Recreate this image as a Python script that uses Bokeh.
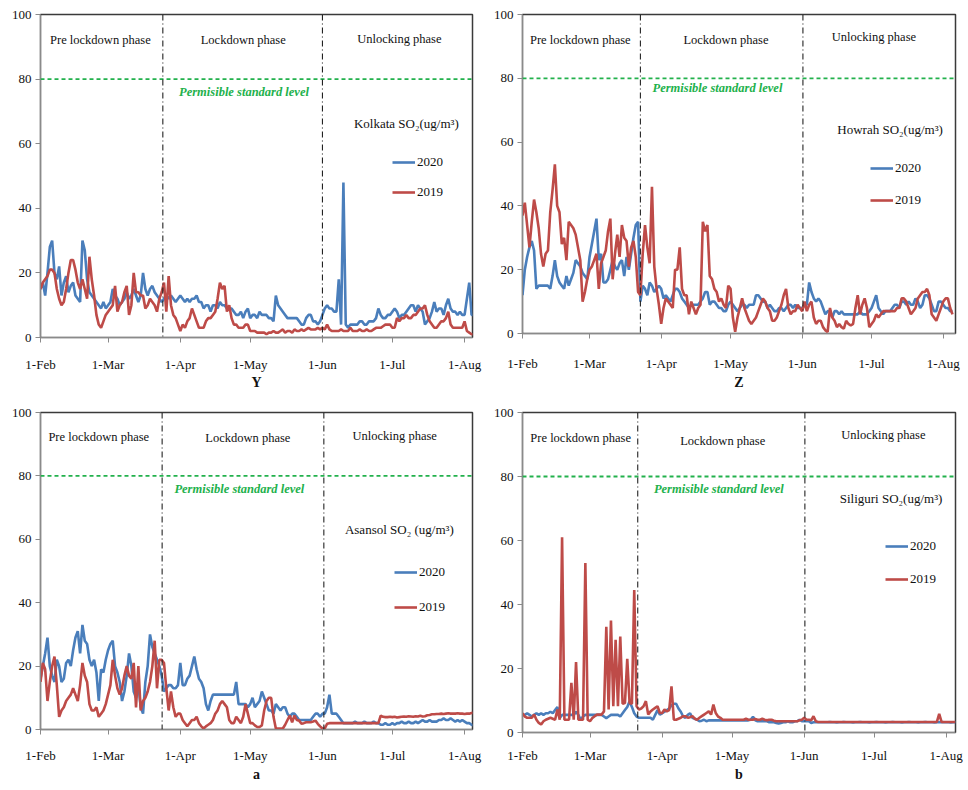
from bokeh.plotting import figure
from bokeh.models import Range1d, FixedTicker, Span, Label, Legend, LegendItem
from bokeh.layouts import column, row
from bokeh.embed import file_html
from bokeh.resources import INLINE

# ---------------- data ----------------
month_ticks = [0, 29, 60, 90, 121, 151, 182]          # days after 1-Feb
month_labels = ["1-Feb", "1-Mar", "1-Apr", "1-May", "1-Jun", "1-Jul", "1-Aug"]
y_ticks = [0, 20, 40, 60, 80, 100]
permissible_level = 80
phase_names = ["Pre lockdown phase", "Lockdown phase", "Unlocking phase"]
series_names = ["2020", "2019"]
city_titles = ["Kolkata SO\u2082(ug/m\u00b3)", "Howrah SO\u2082(ug/m\u00b3)",
               "Asansol SO\u2082 (ug/m\u00b3)", "Siliguri  SO\u2082(ug/m\u00b3)"]
panel_letters = ["Y", "Z", "a", "b"]
lockdown_day = [52.5, 51.0, 52.2, 49.5]
unlock_day = [121.0, 121.3, 121.6, 121.3]

kolkata_2020 = [
    15, 17, 13, 20, 28, 30, 20, 18, 22, 13,
    17, 19, 14, 16, 17, 13, 12, 11, 30, 27,
    18, 14, 13, 12, 11, 10, 9, 11, 9, 10,
    11, 15, 13, 12, 10, 11, 12, 14, 12, 13,
    15, 13, 11, 13, 20, 15, 13, 15, 16, 14,
    13, 12, 11, 12, 13, 12, 13, 12, 11, 12,
    13, 12, 11, 12, 11, 12, 12, 13, 11, 11,
    9, 10, 10, 8, 10, 10, 9, 11, 10, 10,
    9, 9, 9, 8, 7, 7, 8, 6, 8, 9,
    6, 7, 7, 6, 8, 7, 7, 7, 6, 6,
    5, 13, 10, 9, 8, 7, 6, 6, 6, 6,
    6, 5, 4, 4, 6, 7, 7, 5, 5, 4,
    5, 7, 9, 10, 9, 9, 8, 8, 18, 4,
    48, 4, 3, 4, 4, 4, 4, 5, 5, 4,
    4, 5, 5, 5, 6, 9, 7, 6, 6, 7,
    7, 8, 9, 8, 6, 7, 7, 8, 9, 10,
    10, 8, 10, 9, 8, 4, 5, 6, 8, 11,
    8, 9, 9, 7, 10, 12, 9, 8, 8, 7,
    8, 7, 7, 12, 17, 7, 7]
kolkata_2019 = [
    15, 17, 18, 19, 21, 21, 20, 15, 12, 10,
    11, 15, 20, 24, 24, 21, 17, 15, 18, 15,
    12, 25, 18, 13, 7, 4, 3, 5, 7, 8,
    9, 10, 16, 8, 10, 11, 14, 16, 7, 10,
    20, 14, 14, 13, 13, 9, 10, 12, 11, 10,
    8, 12, 14, 17, 8, 19, 10, 7, 6, 4,
    2, 4, 3, 5, 6, 9, 7, 5, 3, 3,
    3, 5, 6, 6, 7, 8, 12, 17, 15, 16,
    8, 10, 6, 4, 4, 3, 3, 3, 4, 4,
    2, 2, 2, 1.5, 1.5, 1.5, 1.5, 1, 1.5, 1.5,
    2, 1.5, 1.5, 2, 2.5, 1.5, 2, 2, 1.5, 2.5,
    2, 2, 2.5, 2, 2.5, 3, 2.5, 2.5, 2.5, 3,
    2.5, 3, 2.5, 4, 2.5, 2, 2, 2, 2, 2.5,
    2, 2, 2, 3, 2, 2, 2, 2.5, 2, 2,
    2.5, 2, 2, 2.5, 3, 3, 3, 3.5, 4, 4,
    4, 3, 3, 6, 5, 6, 6, 7, 6, 6,
    7, 7, 8, 9, 9, 10, 7, 5, 4, 3,
    3, 4, 5, 5, 6, 8, 4, 3, 3, 3,
    3, 3, 5, 2, 1.5, 1, 1]

howrah_2020 = [
    12, 20, 24, 27, 29, 26, 14, 15, 15, 15,
    15, 15, 14, 18, 23, 18, 16, 15, 14, 18,
    15, 17, 19, 23, 22, 21, 19, 18, 17, 24,
    28, 32, 36, 23, 25, 16, 16, 17, 20, 23,
    21, 20, 22, 23, 18, 24, 20, 25, 30, 34,
    35, 10, 15, 14, 12, 16, 15, 13, 14, 15,
    14, 11, 12, 11, 10, 12, 14, 14, 13, 11,
    10, 9, 8, 9, 9, 9, 9, 10, 11, 13,
    13, 9, 10, 10, 9, 8, 8, 7, 7, 9,
    10, 9, 8, 7, 8, 9, 9, 8, 9, 9,
    9, 12, 12, 11, 10, 10, 8, 9, 8, 7,
    7, 8, 8, 7, 8, 9, 9, 8, 9, 8,
    8, 8, 9, 9, 16, 13, 11, 10, 11, 10,
    8, 6, 7, 7, 5, 7, 7, 6, 7, 6,
    6, 6, 6, 6, 6, 6, 7, 6, 6, 6,
    7, 8, 10, 12, 8, 7, 6, 7, 7, 7,
    8, 9, 9, 8, 10, 10, 9, 10, 9, 9,
    11, 10, 8, 9, 12, 12, 11, 9, 7, 7,
    10, 10, 9, 8, 8, 7, 7]
howrah_2019 = [
    37, 41, 34, 27, 35, 42, 38, 33, 25, 21,
    25, 26, 38, 45, 53, 40, 38, 28, 30, 23,
    35, 34, 33, 31, 27, 23, 10, 13, 17, 20,
    21, 23, 25, 14, 22, 24, 26, 32, 36, 17,
    25, 31, 24, 34, 30, 29, 21, 27, 29, 24,
    13, 12, 25, 34, 27, 22, 46, 21, 14, 9,
    3, 8, 11, 10, 9, 8, 20, 20, 27, 14,
    12, 12, 6, 10, 8, 6, 8, 9, 35, 32,
    34, 18, 17, 14, 13, 10, 11, 9, 8, 15,
    14, 5, 0.5, 5, 8, 11, 8, 6, 4, 3,
    4, 5, 7, 9, 11, 10, 8, 7, 4, 4,
    5, 7, 9, 12, 14, 8, 6, 7, 7, 9,
    8, 7, 10, 7, 9, 10, 5, 3, 4, 4,
    2, 1, 0.5, 8, 5, 4, 2, 3, 2, 1.5,
    4, 3, 2.5, 3, 8, 12, 6, 9, 11, 8,
    2, 3, 4, 6, 5, 6, 7, 7, 7, 7,
    7, 7, 8, 8, 11, 11, 10, 8, 6, 7,
    8, 11, 12, 13, 13, 14, 12, 6, 5, 4,
    6, 8, 10, 11, 11, 8, 6]

asansol_2020 = [
    16, 20, 24, 29, 20, 17, 15, 22, 20, 15,
    16, 21, 22, 20, 25, 29, 31, 24, 33, 28,
    27, 22, 20, 22, 18, 9, 19, 18, 22, 25,
    27, 28, 20, 18, 15, 9, 12, 17, 24, 20,
    12, 10, 14, 7, 5, 15, 20, 30, 26, 24,
    22, 20, 17, 12, 13, 14, 14, 13, 13, 14,
    21, 14, 14, 16, 17, 20, 23, 19, 16, 15,
    13, 8, 6, 9, 11, 11, 11, 11, 11, 11,
    11, 11, 11, 11, 15, 8, 8, 8, 8, 7,
    8, 10, 7, 8, 9, 12, 10, 8, 6, 6,
    5, 8, 7, 6, 7, 7, 5, 4, 5, 5,
    4, 3, 3, 3, 3, 3, 3, 4, 5, 5,
    4, 5, 5, 7, 11, 5, 5, 5, 4, 3,
    2, 2, 2, 2, 2, 2.5, 2, 2, 2, 2.5,
    2, 2, 2, 2.5, 2, 2, 1.5, 1.5, 2, 1.5,
    1.5, 2, 1.5, 2, 2, 2.5, 2, 2, 2.5, 2,
    2, 2.5, 2, 2.5, 3, 2.5, 2.5, 3, 2.5, 2.5,
    2.5, 3, 3, 3.5, 3, 3, 3.5, 3, 2.5, 3,
    2.5, 3, 2.5, 2, 2, 1.5, 1.3]
asansol_2019 = [
    15, 21, 19, 9, 15, 20, 23, 14, 4, 6,
    7, 9, 10, 11, 13, 11, 9, 14, 21, 17,
    15, 8, 6, 6, 7, 4, 5, 6, 8, 11,
    14, 22, 17, 13, 11, 13, 17, 20, 17, 16,
    21, 7, 20, 6, 9, 10, 12, 15, 20, 28,
    13, 22, 22, 21, 13, 6, 12, 7, 4, 5,
    5, 3, 2, 1, 2, 3, 3, 4, 2, 1,
    0.3, 1, 1.5, 2, 3, 5, 6, 8, 9, 8,
    7, 3, 2, 2, 4, 3, 2, 4, 8, 5,
    2, 2, 1.3, 0.8, 0.8, 1.3, 6, 9, 10, 10,
    4, 0.3, 0.3, 0.3, 0.3, 1.5, 3, 4.4, 2.3, 4.4,
    3, 2.8, 1.8, 2, 2.3, 2.3, 2.3, 2.5, 2.8, 1.8,
    1, 0.3, 0.3, 1.8, 2, 2, 2, 2, 2, 2,
    2, 2, 2, 2, 2, 2, 2, 2, 2, 2,
    2, 2, 2, 2, 2, 2, 4.4, 4, 3.9, 3.9,
    4, 3.9, 4, 3.8, 3.9, 4, 4.1, 4, 4.2, 4.1,
    4, 4.2, 4.1, 4.3, 4.1, 4.2, 4.5, 4.6, 4.8, 4.8,
    4.9, 4.9, 5, 4.9, 5, 5.1, 5, 5, 5, 5.1,
    5, 5, 4.9, 5, 5, 5.2, 5.3]

siliguri_2020 = [
    5.5, 5.5, 6, 5.5, 5, 5.5, 6, 5.5, 6, 5.5,
    6, 6, 6.5, 6, 7, 8, 4.5, 5.5, 5.5, 5.5,
    5.5, 5.5, 5.5, 6.5, 5.5, 4, 5, 5.5, 5.5, 5.5,
    5.5, 5.5, 5.5, 5.5, 5.5, 5, 4.5, 5, 5.5, 5.5,
    5.5, 5.5, 5, 6, 7, 8, 9.8, 8, 6, 5,
    4.6, 4.6, 4.6, 4.6, 4.6, 4.6, 4, 5.5, 7, 5.6,
    6, 6.5, 7, 7.5, 8.5, 9, 9, 7.5, 6.5, 5,
    4.6, 5.5, 6, 4.6, 4.3, 4, 3.5, 3.7, 4, 3.5,
    3.8, 3.8, 3.8, 3.8, 3.8, 3.8, 3.8, 3.8, 3.8, 3.8,
    3.8, 3.8, 3.8, 3.8, 3.8, 3.8, 3.8, 3.8, 4, 4.9,
    3.8, 3.5, 3.5, 3.5, 3.5, 3.5, 3.2, 3.2, 3.2, 3,
    2.8, 3, 3.2, 3.2, 3.5, 3.2, 3.2, 3.5, 3.5, 4,
    3.5, 3.5, 3.5, 3.5, 3, 3.2, 3.2, 3.2, 3.2, 3.2,
    3.2, 3.2, 3.3, 3.2, 3.2, 3.1, 3.2, 3.2, 3.3, 3.2,
    3.2, 3.2, 3.1, 3.2, 3.2, 3.3, 3.2, 3.2, 3.2, 3.1,
    3.2, 3.2, 3.3, 3.2, 3.2, 3.2, 3.1, 3.2, 3.2, 3.3,
    3.2, 3.2, 3.2, 3.1, 3.2, 3.2, 3.3, 3.2, 3.2, 3.2,
    3.1, 3.2, 3.2, 3.3, 3.2, 3.2, 3.2, 3.1, 3.2, 3.2,
    3.3, 3.2, 3.2, 3.2, 3.1, 3.2, 3.2]
siliguri_2019 = [
    6, 5, 4.6, 4.6, 4.6, 5.6, 4, 3, 2.5, 3.5,
    4, 4.3, 4.6, 4.3, 4, 7.2, 4, 61, 4, 4,
    4, 15.5, 4, 22, 4, 4, 4, 53, 4, 3.5,
    4.5, 5.1, 5.6, 5.6, 5.6, 6.6, 33, 7.2, 35, 8.2,
    29, 8.2, 30, 9, 9.2, 23, 9.2, 9, 44.5, 8.2,
    7.2, 7.5, 8.2, 9.8, 5.6, 6.6, 7.2, 7.7, 8.2, 6.1,
    6.1, 7.2, 6.6, 7, 14.4, 4, 4, 4.3, 4.6, 5.1,
    5.1, 4.6, 4.8, 5.1, 4.3, 4, 4.6, 5.1, 5.6, 6.1,
    6.6, 5.6, 8.7, 6.1, 5, 4.6, 4, 4, 4, 4,
    4, 4, 4, 4, 4, 4, 4.3, 4, 4, 4,
    4.2, 4, 4, 4.3, 4, 3.8, 4, 4, 3.7, 3.5,
    3.5, 3.5, 3.5, 3.5, 3.5, 3.5, 3.5, 3.5, 3.5, 3.8,
    4, 4.6, 4, 4, 3.8, 5.1, 3.5, 3.3, 3.3, 3.3,
    3.3, 3.3, 3.3, 3.3, 3.3, 3.3, 3.3, 3.3, 3.3, 3.3,
    3.3, 3.3, 3.3, 3.3, 3.3, 3.3, 3.3, 3.3, 3.3, 3.3,
    3.3, 3.3, 3.3, 3.3, 3.3, 3.3, 3.3, 3.3, 3.3, 3.3,
    3.3, 3.3, 3.3, 3.3, 3.3, 3.3, 3.3, 3.3, 3.3, 3.3,
    3.3, 3.3, 3.3, 3.3, 3.3, 3.3, 3.3, 3.3, 3.3, 5.8,
    3.3, 3.3, 3.3, 3.3, 3.3, 3.3, 3.3]

days = list(range(len(kolkata_2020)))
series_2020 = [kolkata_2020, howrah_2020, asansol_2020, siliguri_2020]
series_2019 = [kolkata_2019, howrah_2019, asansol_2019, siliguri_2019]

# ---------------- style / layout ----------------
BLUE = "#4a7ebb"
RED = "#be4b48"
GREEN = "#22b14c"
SERIF = "Liberation Serif"
W = 482
ROW_H = [397, 392]

panels = [
    dict(h=ROW_H[0], x_end=185.4, borders=(40, 9, 14, 60), tick_sd=14, lab_sd=0,
         phase_x=(25.7, 87, 154), phase_y=(92, 92, 92.5), perm=(88, 76),
         city=(157, 66.4), leg=(352, 135), leg_sp=10),
    dict(h=ROW_H[0], x_end=187.3, borders=(40, 9, 14, 64), tick_sd=17, lab_sd=1,
         phase_x=(25, 88, 152), phase_y=(92, 92, 93), perm=(85, 77),
         city=(159, 64), leg=(348, 123), leg_sp=12),
    dict(h=ROW_H[1], x_end=185.4, borders=(39, 10, 15, 60), tick_sd=13, lab_sd=1,
         phase_x=(25, 89, 152), phase_y=(92.4, 92, 92.7), perm=(86, 76),
         city=(154, 63), leg=(354, 112), leg_sp=15),
    dict(h=ROW_H[1], x_end=186.0, borders=(38, 8, 15, 57), tick_sd=10, lab_sd=1,
         phase_x=(25, 86, 155), phase_y=(92, 91, 93), perm=(85, 76),
         city=(159, 73), leg=(363, 143), leg_sp=13),
]


def make_panel(i, cfg):
    bl, br, bt, bb = cfg["borders"]
    p = figure(width=W, height=cfg["h"], output_backend="svg", toolbar_location=None,
               x_range=Range1d(0, cfg["x_end"]), y_range=Range1d(0, 100),
               min_border_left=bl, min_border_right=br, min_border_top=bt,
               min_border_bottom=bb, background_fill_color="white",
               border_fill_color="white", outline_line_color="#3a3a3a",
               outline_line_width=1.5)
    p.xgrid.visible = False
    p.ygrid.visible = False

    r20 = p.line(days, series_2020[i], line_color=BLUE, line_width=2.6)
    r19 = p.line(days, series_2019[i], line_color=RED, line_width=2.6)

    p.add_layout(Span(location=permissible_level, dimension="width",
                      line_color=GREEN, line_width=1.8, line_dash="4 3"))
    for loc in (lockdown_day[i], unlock_day[i]):
        p.add_layout(Span(location=loc, dimension="height", line_color="#222222",
                          line_width=1.1, line_dash="6 3 1 3"))

    for name, px, py in zip(phase_names, cfg["phase_x"], cfg["phase_y"]):
        p.add_layout(Label(x=px, y=py, text=name, text_align="center",
                           text_baseline="middle", text_font=SERIF,
                           text_font_size="12.5px", text_color="#111111"))
    p.add_layout(Label(x=cfg["perm"][0], y=cfg["perm"][1],
                       text="Permisible standard  level", text_align="center",
                       text_baseline="middle", text_font=SERIF,
                       text_font_size="12.5px", text_font_style="bold italic",
                       text_color=GREEN))
    p.add_layout(Label(x=cfg["city"][0], y=cfg["city"][1],
                       text=city_titles[i], text_align="center",
                       text_baseline="middle", text_font=SERIF,
                       text_font_size="13px", text_color="#111111"))

    legend = Legend(items=[LegendItem(label=series_names[0], renderers=[r20]),
                           LegendItem(label=series_names[1], renderers=[r19])],
                    location=cfg["leg"], padding=0, margin=0,
                    spacing=cfg["leg_sp"], glyph_width=23, glyph_height=20,
                    label_standoff=2, label_text_font=SERIF,
                    label_text_font_size="13px", label_text_color="#111111",
                    background_fill_alpha=0, border_line_alpha=0)
    p.add_layout(legend)

    p.xaxis.ticker = FixedTicker(ticks=month_ticks)
    p.xaxis.major_label_overrides = {t: l for t, l in zip(month_ticks, month_labels)}
    p.yaxis.ticker = FixedTicker(ticks=y_ticks)
    for ax in (p.xaxis[0], p.yaxis[0]):
        ax.axis_line_color = "#8a8a8a"
        ax.major_tick_line_color = "#8a8a8a"
        ax.major_tick_out = 5
        ax.major_tick_in = 0
        ax.minor_tick_line_color = None
        ax.major_label_text_font = SERIF
        ax.major_label_text_font_size = "13px"
        ax.major_label_text_color = "#111111"
    p.xaxis.major_label_standoff = cfg["tick_sd"]
    p.yaxis.major_label_standoff = 4
    p.xaxis.axis_label = panel_letters[i]
    p.xaxis.axis_label_text_font = SERIF
    p.xaxis.axis_label_text_font_style = "bold"
    p.xaxis.axis_label_text_font_size = "14px"
    p.xaxis.axis_label_text_color = "#111111"
    p.xaxis.axis_label_standoff = cfg["lab_sd"]
    return p


figs = [make_panel(i, cfg) for i, cfg in enumerate(panels)]
# columns first, so each panel keeps its own top/bottom borders
layout = row(column(figs[0], figs[2]), column(figs[1], figs[3]))

open("out.html", "w").write(file_html(layout, INLINE))
